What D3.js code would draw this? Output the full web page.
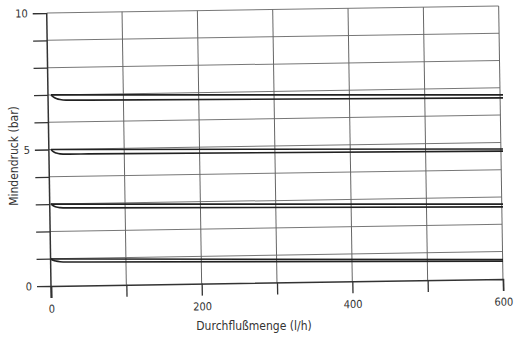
<!DOCTYPE html>
<html><head><meta charset="utf-8">
<script src="https://cdn.jsdelivr.net/npm/d3@7"></script>
<style>
html,body{margin:0;padding:0;background:#fff;}
svg{display:block;}
text{font-family:"Liberation Sans Narrow","DejaVu Sans Condensed","Liberation Sans",sans-serif;fill:#333;}
</style></head>
<body>
<script>
// ---- data ----
const xTicks = [0, 100, 200, 300, 400, 500, 600];
const xTickLabels = ["0", "", "200", "", "400", "", "600"];
const yTicks = [0, 1, 2, 3, 4, 5, 6, 7, 8, 9, 10];
const yTickLabels = ["0", "", "", "", "", "5", "", "", "", "", "10"];
const flow = [0, 3, 7, 12, 20, 50, 600];
const p7Upper = [7.0, 7.0, 7.0, 7.0, 7.0, 7.0, 7.0];
const p7Lower = [7.0, 6.93, 6.87, 6.83, 6.81, 6.81, 6.89];
const p5Upper = [5.0, 5.0, 5.0, 5.0, 5.0, 5.0, 5.02];
const p5Lower = [5.0, 4.92, 4.87, 4.84, 4.83, 4.84, 4.94];
const p3Upper = [3.0, 3.0, 3.0, 3.0, 3.0, 3.0, 3.0];
const p3Lower = [3.0, 2.94, 2.89, 2.87, 2.86, 2.86, 2.9];
const p1Upper = [0.99, 0.99, 0.99, 0.99, 0.99, 0.99, 0.97];
const p1Lower = [0.99, 0.94, 0.91, 0.89, 0.88, 0.88, 0.91];
const xTitle = "Durchflußmenge (l/h)";
const yTitle = "Mindendruck (bar)";

const W = 516, H = 345;
const svg = d3.select("body").append("svg").attr("width", W).attr("height", H);

const x = d3.scaleLinear().domain([0, 600]).range([51, 503]);
const y = d3.scaleLinear().domain([0, 10]).range([286, 13]);

// tilted frame (scanned page)
const frame = svg.append("g").attr("transform", `rotate(-0.9, ${x(0)}, ${y(0)})`);

// grid
frame.append("g").selectAll("line").data(yTicks.slice(1)).join("line")
  .attr("x1", x(0)).attr("x2", x(600)).attr("y1", d => y(d)).attr("y2", d => y(d))
  .attr("stroke", "#777").attr("stroke-width", 1);
frame.append("g").selectAll("line").data(xTicks.slice(1)).join("line")
  .attr("x1", d => x(d)).attr("x2", d => x(d)).attr("y1", y(0)).attr("y2", y(10))
  .attr("stroke", "#666").attr("stroke-width", 1);

// axes
const xAxis = d3.axisBottom(x).tickValues(xTicks).tickSize(12).tickPadding(7)
  .tickFormat((d, i) => xTickLabels[i]);
const gx = frame.append("g").attr("transform", `translate(0,${y(0)})`).call(xAxis);
const yAxis = d3.axisLeft(y).tickValues(yTicks).tickSize(14).tickPadding(5)
  .tickFormat((d, i) => yTickLabels[i]);
const gy = frame.append("g").attr("transform", `translate(${x(0)},0)`).call(yAxis);
[gx, gy].forEach(g => {
  g.select(".domain").attr("stroke", "#333").attr("stroke-width", 1.5);
  g.selectAll(".tick line").attr("stroke", "#333").attr("stroke-width", 1.3);
  g.selectAll(".tick text").attr("font-size", 11).attr("fill", "#333")
    .style("font-family", '"Liberation Sans Narrow","DejaVu Sans Condensed",sans-serif');
});
gy.select(".domain").attr("d", `M0,${y(0) + 12}V${y(10)}`);

// curves
const line = d3.line().x((d, i) => x(flow[i])).y(d => y(d)).curve(d3.curveMonotoneX);
const series = [p7Upper, p7Lower, p5Upper, p5Lower, p3Upper, p3Lower, p1Upper, p1Lower];
svg.append("g").selectAll("path").data(series).join("path")
  .attr("d", d => line(d)).attr("fill", "none")
  .attr("stroke", "#222").attr("stroke-width", 1.6);

// titles
svg.append("text").attr("x", 254).attr("y", 330).attr("text-anchor", "middle")
  .attr("font-size", 12).text(xTitle);
svg.append("text").attr("transform", "translate(18,156) rotate(-90)")
  .attr("text-anchor", "middle").attr("font-size", 12).text(yTitle);
</script>
</body></html>
